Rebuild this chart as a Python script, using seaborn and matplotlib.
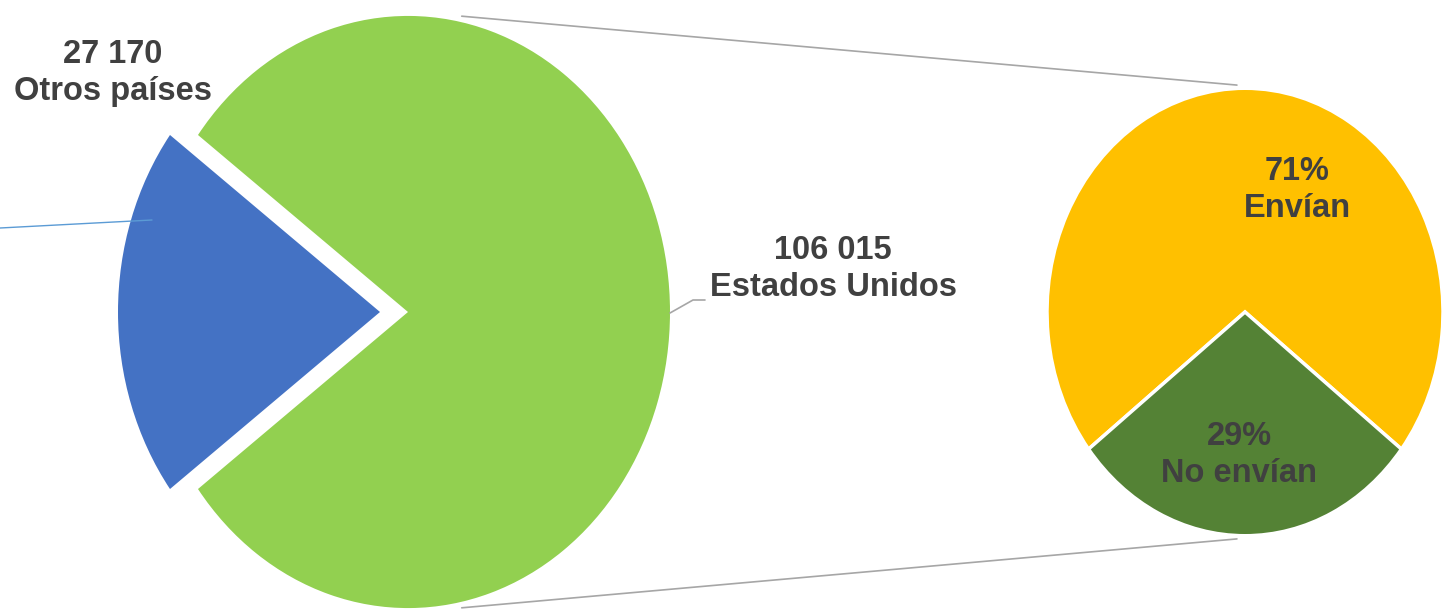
import matplotlib; matplotlib.use('Agg')
import numpy as np
import seaborn as sns
import matplotlib.pyplot as plt

# data
paises = ["Otros países", "Estados Unidos"]
migrantes = [27170, 106015]
envio = ["Envían", "No envían"]
envio_pct = [71, 29]

colores_paises = ["#4472C4", "#92D050"]
colores_envio = ["#FFC000", "#548235"]
texto = "#404040"

sns.set_theme(style="white")
plt.rcParams['font.family'] = ['Liberation Sans', 'DejaVu Sans']

W, H = 1444, 610
k = 1.13  # vertical stretch of the pies in the reference

fig = plt.figure(figsize=(W / 100, H / 100), dpi=100)
ax = fig.add_axes([0, 0, 1, 1])


def px(x, y):
    # pixel position in the picture -> data coords
    return x, (H - y) / k


def on_circle(c, r, ang, f=1.0):
    a = np.radians(ang)
    return c[0] + f * r * np.cos(a), c[1] + f * r * np.sin(a)


big_c, big_r = px(408, 312), 262
small_c, small_r = px(1245, 312), 198

# main pie: "otros" wedge centred on the left, pulled out
share_otros = migrantes[0] / sum(migrantes)
ax.pie(migrantes, colors=colores_paises, startangle=180 - share_otros * 180,
       explode=[28, 0], center=big_c, radius=big_r,
       wedgeprops=dict(linewidth=0))

# secondary pie: "no envían" centred at the bottom
share_no = envio_pct[1] / sum(envio_pct)
ax.pie(envio_pct, colors=colores_envio,
       startangle=270 - share_no * 180 - (1 - share_no) * 360,
       center=small_c, radius=small_r,
       wedgeprops=dict(edgecolor='white', linewidth=2.5))

# connector lines between the two pies
for s in (1, -1):
    p0 = on_circle(big_c, big_r, s * 78.4, 1.02)
    p1 = on_circle(small_c, small_r, s * 92.3, 1.015)
    ax.plot([p0[0], p1[0]], [p0[1], p1[1]], color="#A6A6A6", lw=1.2)

# leader lines
lx, ly = zip(px(152, 220), px(0, 228))
ax.plot(lx, ly, color="#5B9BD5", lw=1)
lx, ly = zip(px(670, 313), px(693, 300), px(705, 300))
ax.plot(lx, ly, color="#A6A6A6", lw=1.2)


def fmt(v):
    return f"{v:,}".replace(",", " ")


kw = dict(ha='center', va='center', fontsize=23.5, fontweight='bold',
          color=texto, linespacing=1.22)
ax.text(*px(113, 73), f"{fmt(migrantes[0])}\n{paises[0]}", **kw)
ax.text(*px(833, 269), f"{fmt(migrantes[1])}\n{paises[1]}", **kw)
ax.text(*px(1297, 190), f"{envio_pct[0]}%\n{envio[0]}", **kw)
ax.text(*px(1239, 455), f"{envio_pct[1]}%\n{envio[1]}", **kw)

ax.set_xlim(0, W)
ax.set_ylim(0, H / k)
ax.set_aspect('auto')
ax.axis('off')

fig.savefig("out.png", dpi=100, facecolor='white')
plt.close(fig)
